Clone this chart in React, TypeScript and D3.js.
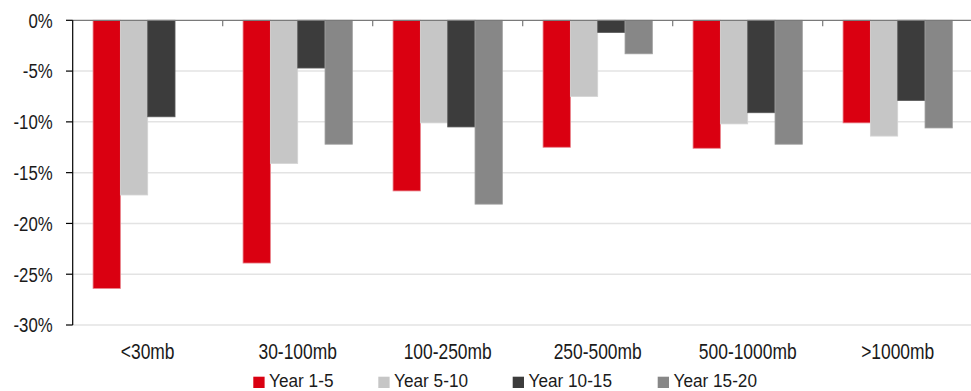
import React from "react";
import * as d3 from "d3";

const categories = ["<30mb", "30-100mb", "100-250mb", "250-500mb", "500-1000mb", ">1000mb"];
const seriesNames = ["Year 1-5", "Year 5-10", "Year 10-15", "Year 15-20"];
const year1to5 = [-26.4, -23.9, -16.8, -12.5, -12.6, -10.1];
const year5to10 = [-17.2, -14.1, -10.1, -7.5, -10.2, -11.4];
const year10to15 = [-9.5, -4.7, -10.5, -1.2, -9.1, -7.9];
const year15to20: (number | null)[] = [null, -12.2, -18.1, -3.3, -12.2, -10.6];
const yTicks = [0, -5, -10, -15, -20, -25, -30];

const seriesValues = [year1to5, year5to10, year10to15, year15to20];
const colors = ["#DA0011", "#C6C6C6", "#3C3C3C", "#878787"];
const strokes = ["#E8808A", "#D4D4D4", "#5A5A5A", "#A0A0A0"];

const W = 971;
const H = 391;
const FONT = "'Liberation Sans', Arial, sans-serif";

export default function App() {
  const left = 72.7;
  const x0 = d3.scaleBand<string>().domain(categories).range([left, left + 900]).paddingInner(0).paddingOuter(0);
  const x1 = d3.scaleBand<string>().domain(seriesNames).range([0, x0.bandwidth()]).paddingInner(0).paddingOuter(0.745);
  const y = d3.scaleLinear().domain([-30, 0]).range([325, 20.3]);

  const legendX = [253.3, 378.3, 512.7, 657.7];

  return (
    <svg width={W} height={H} style={{ position: "absolute", left: 0, top: 0, background: "#fff" }} fontFamily={FONT}>
      {yTicks.filter((t) => t !== 0).map((t) => (
        <line key={"g" + t} x1={left} x2={W} y1={y(t)} y2={y(t)} stroke="#E3E3E3" strokeWidth={1.5} />
      ))}
      {categories.map((c, ci) => (
        <g key={c} transform={`translate(${x0(c)},0)`}>
          {seriesNames.map((s, si) => {
            const v = seriesValues[si][ci];
            if (v === null || v === undefined) return null;
            const y0 = y(0);
            const y1 = y(v);
            return (
              <rect
                key={s}
                x={x1(s)!}
                y={y0}
                width={x1.bandwidth()}
                height={y1 - y0}
                fill={colors[si]}
                stroke={strokes[si]}
                strokeWidth={0.8}
              />
            );
          })}
        </g>
      ))}
      <line x1={left} x2={W} y1={y(0)} y2={y(0)} stroke="#7A7A7A" strokeWidth={1.2} />
      {categories.map((c) => (
        <line key={"ct" + c} x1={x0(c)! + x0.bandwidth()} x2={x0(c)! + x0.bandwidth()} y1={y(0)} y2={y(0) + 6} stroke="#7A7A7A" strokeWidth={1.2} />
      ))}
      <line x1={left} x2={left} y1={y(0)} y2={y(-30)} stroke="#000" strokeWidth={1.2} />
      {yTicks.map((t) => (
        <g key={"yt" + t}>
          <line x1={left - 6.7} x2={left} y1={y(t)} y2={y(t)} stroke="#000" strokeWidth={1.2} />
          <text transform={`translate(52.7,${y(t) + 7.4}) scale(0.82,1)`} textAnchor="end" fontSize={20.5} fill="#1a1a1a">
            {t + "%"}
          </text>
        </g>
      ))}
      {categories.map((c) => (
        <text
          key={"xl" + c}
          transform={`translate(${x0(c)! + x0.bandwidth() / 2},359) scale(0.81,1)`}
          textAnchor="middle"
          fontSize={21.5}
          fill="#1a1a1a"
        >
          {c}
        </text>
      ))}
      {seriesNames.map((s, i) => (
        <g key={"lg" + s} transform={`translate(${legendX[i]},0)`}>
          <rect x={0} y={376.7} width={11.3} height={11.3} fill={colors[i]} />
          <text transform={`translate(15.8,386.7) scale(0.92,1)`} fontSize={18.7} fill="#1a1a1a">
            {s}
          </text>
        </g>
      ))}
    </svg>
  );
}
